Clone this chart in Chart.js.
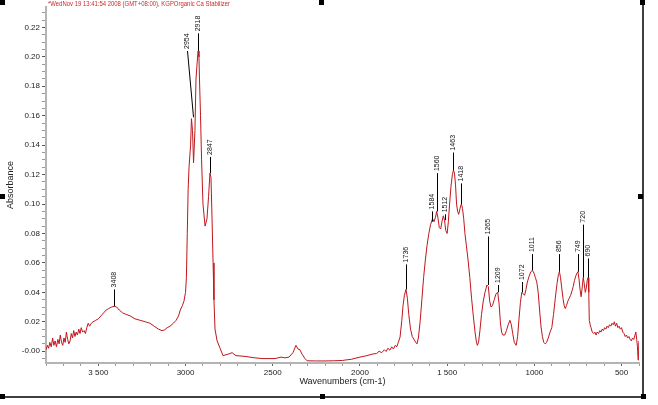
<!DOCTYPE html>
<html>
<head>
<meta charset="utf-8">
<script src="https://cdn.jsdelivr.net/npm/chart.js@4.4.1/dist/chart.umd.min.js"></script>
<style>
  html, body { margin: 0; padding: 0; background: #fff; }
  #wrap { width: 658px; height: 405px; position: relative; }
</style>
</head>
<body>
<div id="wrap"><canvas id="spectrum"></canvas></div>
<script>
// spectrum: wavenumber (cm-1) and absorbance
const wavenumbers = [
  3800, 3792, 3785, 3778, 3770, 3762, 3755, 3748, 3740, 3732, 3725, 3718, 3711, 3704, 3697, 3690,
  3683, 3676, 3669, 3662, 3655, 3648, 3641, 3634, 3627, 3620, 3612, 3605, 3598, 3590, 3582, 3574,
  3566, 3558, 3550, 3540, 3530, 3515, 3500, 3485, 3470, 3455, 3440, 3425, 3408, 3395, 3380, 3360,
  3340, 3318, 3290, 3260, 3230, 3204, 3180, 3155, 3135, 3120, 3105, 3089, 3070, 3054, 3040, 3030,
  3018, 3009, 3000, 2995, 2990, 2985, 2980, 2971, 2966, 2960, 2954, 2946, 2940, 2934, 2928, 2923,
  2920, 2914, 2908, 2900, 2888, 2877, 2868, 2860, 2854, 2848, 2842, 2837, 2831, 2819, 2802, 2785,
  2756, 2733, 2711, 2659, 2602, 2556, 2487, 2452, 2430, 2407, 2384, 2367, 2355, 2344, 2332, 2315,
  2303, 2250, 2200, 2150, 2100, 2085, 2050, 2000, 1960, 1930, 1904, 1890, 1875, 1860, 1850, 1840,
  1828, 1818, 1808, 1798, 1789, 1780, 1770, 1760, 1753, 1745, 1736, 1728, 1720, 1710, 1700, 1690,
  1680, 1673, 1665, 1655, 1645, 1635, 1625, 1615, 1605, 1595, 1584, 1575, 1567, 1560, 1552, 1545,
  1537, 1530, 1522, 1515, 1508, 1500, 1493, 1486, 1478, 1470, 1464, 1458, 1452, 1446, 1440, 1434,
  1428, 1422, 1418, 1412, 1405, 1398, 1390, 1380, 1370, 1360, 1350, 1340, 1333, 1327, 1320, 1312,
  1303, 1293, 1283, 1272, 1264, 1256, 1248, 1240, 1230, 1220, 1210, 1202, 1195, 1188, 1180, 1170,
  1160, 1150, 1140, 1132, 1124, 1115, 1104, 1096, 1088, 1080, 1072, 1064, 1056, 1048, 1040, 1030,
  1020, 1011, 1002, 994, 986, 978, 970, 962, 954, 946, 938, 930, 920, 910, 900, 890,
  880, 870, 862, 856, 850, 843, 836, 829, 823, 816, 808, 800, 792, 784, 777, 770,
  763, 756, 750, 744, 738, 732, 726, 720, 714, 708, 702, 697, 692, 688, 685, 680,
  675, 668, 660, 653, 646, 640, 632, 625, 618, 611, 604, 597, 590, 583, 576, 569,
  562, 555, 548, 541, 535, 528, 521, 514, 507, 500, 493, 486, 479, 472, 465, 458,
  451, 444, 437, 430, 423, 418, 413, 409, 405, 402, 400
];
const absorbance = [
  0.001, 0.004, 0.002, 0.006, 0.003, 0.009, 0.004, 0.007, 0.003, 0.008, 0.005, 0.011, 0.006, 0.004, 0.009, 0.006,
  0.013, 0.008, 0.005, 0.007, 0.012, 0.009, 0.014, 0.010, 0.013, 0.011, 0.015, 0.012, 0.016, 0.013, 0.014, 0.012,
  0.016, 0.019, 0.017, 0.019, 0.020, 0.021, 0.022, 0.024, 0.026, 0.028, 0.029, 0.030, 0.0305, 0.030, 0.028, 0.026,
  0.025, 0.024, 0.022, 0.021, 0.020, 0.019, 0.017, 0.015, 0.014, 0.0145, 0.016, 0.017, 0.019, 0.021, 0.024, 0.028,
  0.031, 0.034, 0.040, 0.050, 0.080, 0.110, 0.125, 0.140, 0.158, 0.150, 0.128, 0.150, 0.185, 0.195, 0.204, 0.200,
  0.185, 0.160, 0.130, 0.100, 0.085, 0.090, 0.105, 0.121, 0.118, 0.090, 0.060, 0.035, 0.015, 0.007, 0.002, -0.003,
  -0.002, -0.001, -0.003, -0.0035, -0.0045, -0.005, -0.005, -0.004, -0.0045, -0.004, -0.001, 0.004, 0.0015, 0.001, -0.002, -0.005,
  -0.0065, -0.0066, -0.0066, -0.0065, -0.0063, -0.006, -0.0055, -0.004, -0.003, -0.002, -0.0015, 0.000, -0.001, 0.001, -0.0002, 0.002,
  0.0007, 0.003, 0.0015, 0.004, 0.003, 0.006, 0.0096, 0.021, 0.031, 0.038, 0.042, 0.036, 0.025, 0.015, 0.010, 0.008,
  0.006, 0.005, 0.009, 0.020, 0.035, 0.050, 0.062, 0.072, 0.080, 0.086, 0.090, 0.088, 0.091, 0.095, 0.090, 0.084,
  0.083, 0.088, 0.092, 0.089, 0.082, 0.080, 0.088, 0.100, 0.112, 0.120, 0.123, 0.121, 0.113, 0.100, 0.095, 0.093,
  0.096, 0.099, 0.100, 0.097, 0.090, 0.080, 0.072, 0.062, 0.050, 0.036, 0.024, 0.013, 0.007, 0.004, 0.006, 0.014,
  0.025, 0.034, 0.040, 0.045, 0.044, 0.034, 0.030, 0.031, 0.035, 0.039, 0.040, 0.032, 0.020, 0.013, 0.011, 0.011,
  0.014, 0.018, 0.021, 0.018, 0.012, 0.006, 0.004, 0.010, 0.022, 0.033, 0.040, 0.039, 0.038, 0.042, 0.047, 0.051,
  0.054, 0.055, 0.053, 0.050, 0.047, 0.040, 0.028, 0.017, 0.010, 0.006, 0.005, 0.006, 0.009, 0.013, 0.016, 0.025,
  0.036, 0.046, 0.052, 0.054, 0.050, 0.043, 0.036, 0.031, 0.029, 0.031, 0.034, 0.036, 0.038, 0.041, 0.044, 0.048,
  0.051, 0.053, 0.054, 0.049, 0.042, 0.037, 0.043, 0.050, 0.046, 0.040, 0.043, 0.048, 0.050, 0.040, 0.021, 0.018,
  0.016, 0.013, 0.012, 0.013, 0.011, 0.013, 0.012, 0.014, 0.013, 0.015, 0.014, 0.016, 0.015, 0.017, 0.016, 0.018,
  0.017, 0.019, 0.018, 0.020, 0.017, 0.019, 0.016, 0.017, 0.015, 0.016, 0.013, 0.012, 0.010, 0.011, 0.009, 0.010,
  0.008, 0.007, 0.009, 0.008, 0.011, 0.013, 0.008, 0.003, -0.006, 0.004, 0.007
];

// peak picks: where the leader starts, where the label sits, and the label text
const peakWn     = [3408, 2960, 2928, 2860, 1736, 1584, 1560, 1515, 1464, 1418, 1268, 1210, 1072, 1011, 856, 750, 720, 692];
const peakAbs    = [0.0305, 0.159, 0.204, 0.121, 0.042, 0.088, 0.095, 0.089, 0.123, 0.100, 0.045, 0.040, 0.040, 0.055, 0.054, 0.054, 0.050, 0.050];
const peakLabWn  = [3408, 2990, 2928, 2860, 1736, 1584, 1560, 1515, 1464, 1418, 1268, 1210, 1072, 1011, 856, 750, 720, 692];
const peakLabAbs = [0.042, 0.204, 0.216, 0.132, 0.059, 0.095, 0.121, 0.093, 0.135, 0.114, 0.078, 0.045, 0.047, 0.066, 0.066, 0.066, 0.086, 0.063];
const peakText   = ["3408", "2954", "2918", "2847", "1736", "1584", "1560", "1512", "1463", "1418", "1265", "1209", "1072", "1011", "856", "749", "720", "690"];

const xTickValues = [3500, 3000, 2500, 2000, 1500, 1000, 500];
const xTickLabels = ["3 500", "3000", "2500", "2000", "1 500", "1000", "500"];
const yTickValues = [0, 0.02, 0.04, 0.06, 0.08, 0.10, 0.12, 0.14, 0.16, 0.18, 0.20, 0.22];
const yTickLabels = ["-0.00", "0.02", "0.04", "0.06", "0.08", "0.10", "0.12", "0.14", "0.16", "0.18", "0.20", "0.22"];

const titleText = "*WedNov 19 13:41:54 2008 (GMT+08:00), KGPOrganic Ca Stabilizer";

const lineRed = "#c0161c";
const fontFamily = "'Liberation Sans', Arial, sans-serif";

const points = wavenumbers.map((w, i) => ({ x: w, y: absorbance[i] }));

const findLabel = (values, labels, v) => {
    const i = values.findIndex(t => Math.abs(t - v) < 1e-6);
    return i >= 0 ? labels[i] : "";
};

// peak leaders + rotated labels, header text and the selection frame
const decorations = {
    id: "decorations",
    afterDatasetsDraw(chart) {
        const { ctx, scales: { x, y } } = chart;
        ctx.save();
        ctx.strokeStyle = "#000";
        ctx.lineWidth = 1;
        ctx.fillStyle = "#111";
        ctx.font = "7px " + fontFamily;
        peakWn.forEach((w, i) => {
            const x0 = Math.round(x.getPixelForValue(w)) + 0.5;
            const y0 = y.getPixelForValue(peakAbs[i]);
            const x1 = Math.round(x.getPixelForValue(peakLabWn[i])) + 0.5;
            const y1 = y.getPixelForValue(peakLabAbs[i]);
            ctx.beginPath();
            ctx.moveTo(x0, y0);
            ctx.lineTo(x1, y1);
            ctx.stroke();
            ctx.save();
            ctx.translate(x1, y1 - 2);
            ctx.rotate(-Math.PI / 2);
            ctx.textAlign = "left";
            ctx.textBaseline = "middle";
            ctx.fillText(peakText[i], 0, 0);
            ctx.restore();
        });

        // header line in red, squeezed like the original
        ctx.fillStyle = "#cc2a2a";
        ctx.font = "7px " + fontFamily;
        const w = ctx.measureText(titleText).width;
        ctx.save();
        ctx.translate(48, 4);
        ctx.scale(182 / w, 1);
        ctx.textAlign = "left";
        ctx.textBaseline = "middle";
        ctx.fillText(titleText, 0, 0);
        ctx.restore();

        // frame with handles
        ctx.strokeStyle = "#000";
        ctx.lineWidth = 1.5;
        ctx.beginPath();
        ctx.moveTo(643, 0);
        ctx.lineTo(643, 397);
        ctx.lineTo(0, 397);
        ctx.stroke();
        ctx.fillStyle = "#000";
        [[0, 0], [319, 0], [640, 0], [0, 194], [638, 194], [0, 394], [320, 394], [641, 394]].forEach(([hx, hy]) => {
            ctx.fillRect(hx, hy, 5, 5);
        });
        ctx.restore();
    }
};

new Chart(document.getElementById("spectrum"), {
    type: "line",
    data: {
        datasets: [{
            data: points,
            borderColor: lineRed,
            borderWidth: 1,
            pointRadius: 0,
            tension: 0,
            fill: false
        }]
    },
    options: {
        responsive: true,
        maintainAspectRatio: false,
        animation: false,
        events: [],
        layout: { padding: { left: 0, right: 19, top: 0, bottom: 0 } },
        plugins: {
            legend: { display: false },
            tooltip: { enabled: false }
        },
        scales: {
            x: {
                type: "linear",
                reverse: true,
                min: 400,
                max: 3800,
                afterFit: (scale) => { scale.height = 42; },
                afterBuildTicks: (scale) => {
                    const t = [];
                    for (let v = 400; v <= 3800; v += 100) t.push({ value: v });
                    scale.ticks = t;
                },
                border: { display: true, color: "#b4b4b4", width: 2 },
                grid: {
                    drawOnChartArea: false,
                    drawTicks: true,
                    tickLength: 3,
                    tickColor: (c) => (c.tick && c.tick.value % 500 === 0 ? "#666" : "#999")
                },
                ticks: {
                    autoSkip: false,
                    maxRotation: 0,
                    padding: 2,
                    color: "#222",
                    font: { family: fontFamily, size: 8 },
                    callback: (v) => findLabel(xTickValues, xTickLabels, v)
                },
                title: {
                    display: true,
                    text: "Wavenumbers (cm-1)",
                    color: "#222",
                    font: { family: fontFamily, size: 9 },
                    padding: { top: 0, bottom: 18.5 }
                }
            },
            y: {
                type: "linear",
                min: -0.008,
                max: 0.234,
                afterFit: (scale) => { scale.width = 46; },
                afterBuildTicks: (scale) => {
                    const t = [];
                    for (let k = -1; k <= 46; k++) t.push({ value: Math.round(k * 5) / 1000 });
                    scale.ticks = t;
                },
                border: { display: true, color: "#b4b4b4", width: 2 },
                grid: {
                    drawOnChartArea: false,
                    drawTicks: true,
                    tickLength: 4,
                    tickColor: (c) => (c.tick && findLabel(yTickValues, yTickLabels, c.tick.value) !== "" ? "#555" : "#999")
                },
                ticks: {
                    autoSkip: false,
                    padding: 2,
                    color: "#222",
                    font: { family: fontFamily, size: 8 },
                    callback: (v) => findLabel(yTickValues, yTickLabels, v)
                },
                title: {
                    display: true,
                    text: "Absorbance",
                    color: "#222",
                    font: { family: fontFamily, size: 9 },
                    padding: { top: 5, bottom: 0 }
                }
            }
        }
    },
    plugins: [decorations]
});
</script>
</body>
</html>
